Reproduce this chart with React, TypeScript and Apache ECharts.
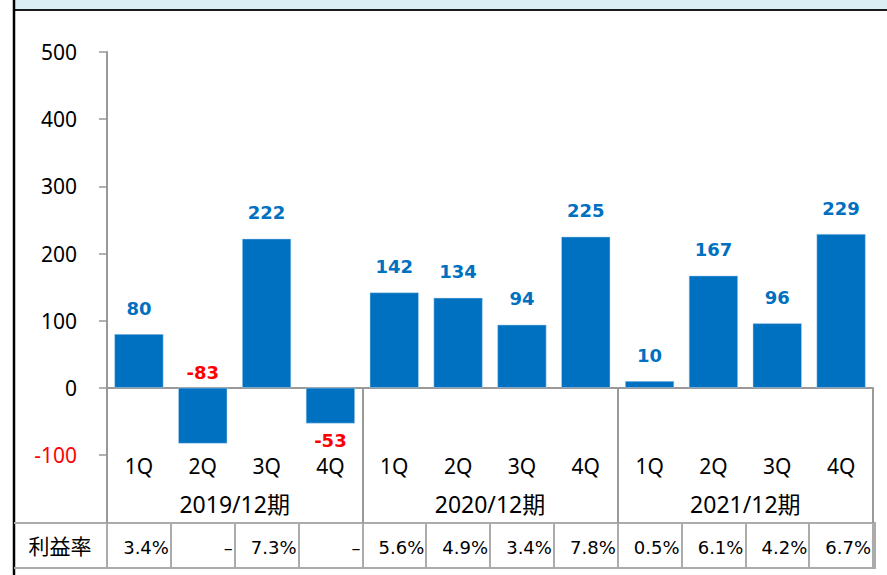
import React, { useEffect, useRef } from "react";
import * as echarts from "echarts";

const quarters = ["1Q", "2Q", "3Q", "4Q", "1Q", "2Q", "3Q", "4Q", "1Q", "2Q", "3Q", "4Q"];
const periods = ["2019/12期", "2020/12期", "2021/12期"];
const profits = [80, -83, 222, -53, 142, 134, 94, 225, 10, 167, 96, 229];
const margins = ["3.4%", "–", "7.3%", "–", "5.6%", "4.9%", "3.4%", "7.8%", "0.5%", "6.1%", "4.2%", "6.7%"];
const rowLabel = "利益率";
const yMin = -100;
const yMax = 500;
const yStep = 100;

const FONT = "'Noto Sans', 'Noto Sans CJK JP', sans-serif";
const BAR = "#0070C0";
const RED = "#FF0000";
const GRID_GRAY = "#999999";
const TABLE_GRAY = "#ABABAB";

export default function App() {
  const ref = useRef<HTMLDivElement>(null);
  useEffect(() => {
    if (!ref.current) return;
    const chart = echarts.init(ref.current, undefined, { renderer: "svg" });
    const data = profits.map((v) => {
      const neg = v < 0;
      return {
        value: v,
        label: {
          show: true,
          color: neg ? RED : BAR,
          position: neg ? (v < -60 ? "top" : "bottom") : "top",
          distance: neg ? (v < -60 ? 6 : 8) : 17,
        },
      };
    });
    chart.setOption({
      animation: false,
      grid: { left: 107, right: 14, top: 52, bottom: 120, containLabel: false },
      xAxis: [
        {
          type: "category",
          data: quarters,
          axisLine: { show: true, onZero: true, lineStyle: { color: GRID_GRAY, width: 2 } },
          axisTick: { show: false },
          axisLabel: { interval: 0, margin: 0, fontSize: 21, color: "#000", fontFamily: FONT },
        },
        {
          type: "category",
          data: periods,
          position: "bottom",
          offset: -67,
          axisLine: { show: false, onZero: false },
          axisTick: { show: true, length: 135, lineStyle: { color: GRID_GRAY, width: 2 } },
          axisLabel: { interval: 0, margin: 104, fontSize: 23, color: "#000", fontFamily: FONT },
        },
        {
          type: "category",
          data: margins,
          position: "bottom",
          offset: 68,
          axisLine: { show: false, onZero: false },
          axisTick: { show: true, interval: 0, length: 45, lineStyle: { color: TABLE_GRAY, width: 2 } },
          axisLabel: {
            interval: 0,
            margin: 15,
            fontSize: 18,
            color: "#000",
            fontFamily: "'DejaVu Sans', sans-serif",
            formatter: (v: string) => `{v|${v}}`,
            rich: {
              v: { width: 60, align: "right", fontSize: 18, fontFamily: "'DejaVu Sans', sans-serif", color: "#000" },
            },
          },
        },
      ],
      yAxis: {
        type: "value",
        min: yMin,
        max: yMax,
        interval: yStep,
        axisLine: { show: true, lineStyle: { color: GRID_GRAY, width: 2 } },
        axisTick: { show: true, length: 8, lineStyle: { color: GRID_GRAY, width: 1.5 } },
        splitLine: { show: false },
        axisLabel: {
          margin: 30,
          fontSize: 21,
          fontFamily: FONT,
          color: (v: any) => (Number(v) < 0 ? RED : "#000"),
        },
      },
      series: [
        {
          type: "bar",
          xAxisIndex: 0,
          data,
          barWidth: 49,
          itemStyle: { color: BAR, borderColor: "#BDD7EE", borderWidth: 0.5 },
          label: {
            show: true,
            fontSize: 18,
            fontWeight: "bold",
            fontFamily: "'DejaVu Sans', sans-serif",
          },
        },
      ],
      graphic: [
        { type: "rect", shape: { x: 15, y: 0, width: 872, height: 9 }, style: { fill: "#DAEEF3" }, silent: true },
        { type: "line", shape: { x1: 14, y1: 10, x2: 887, y2: 10 }, style: { stroke: "#1A1A1A", lineWidth: 2 }, silent: true },
        { type: "line", shape: { x1: 14, y1: 0, x2: 14, y2: 575 }, style: { stroke: "#000", lineWidth: 2.5 }, silent: true },
        { type: "line", shape: { x1: 14, y1: 523, x2: 876, y2: 523 }, style: { stroke: TABLE_GRAY, lineWidth: 2 }, silent: true },
        { type: "line", shape: { x1: 14, y1: 568, x2: 876, y2: 568 }, style: { stroke: TABLE_GRAY, lineWidth: 2 }, silent: true },
        { type: "line", shape: { x1: 875, y1: 523, x2: 875, y2: 568 }, style: { stroke: TABLE_GRAY, lineWidth: 2 }, silent: true },
        {
          type: "text",
          x: 60,
          y: 546,
          style: { text: rowLabel, fontSize: 21, fontFamily: FONT, fill: "#000", align: "center", verticalAlign: "middle" },
          silent: true,
        },
      ],
    });
    return () => chart.dispose();
  }, []);
  return (
    <div
      ref={ref}
      style={{ position: "fixed", left: 0, top: 0, width: 887, height: 575, background: "#fff" }}
    />
  );
}
